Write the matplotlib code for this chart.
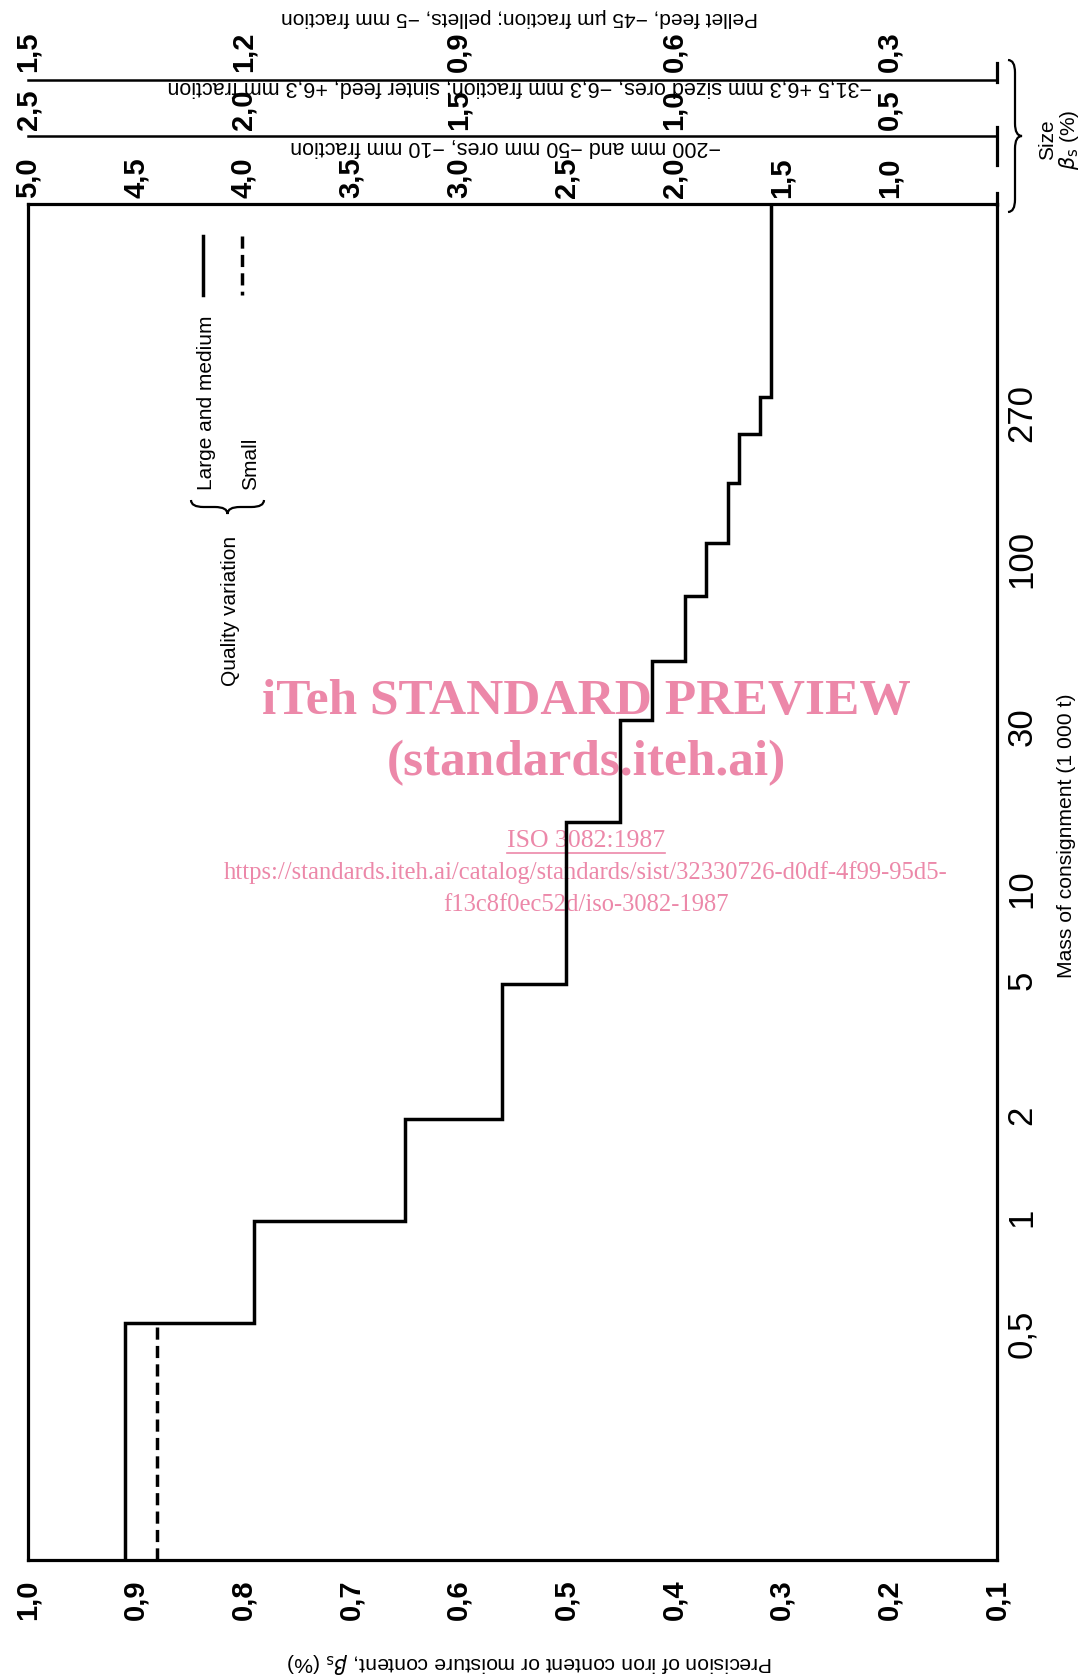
import matplotlib
matplotlib.use('Agg')
import matplotlib.pyplot as plt
import matplotlib.transforms as mtransforms
from matplotlib.path import Path
from matplotlib.patches import PathPatch
from matplotlib.ticker import NullLocator
from matplotlib import font_manager
import numpy as np

W, H = 1084, 1680

# step curve: mass of consignment (1 000 t) bin edges and precision beta_s (%)
mass_edges = [0.1, 0.5, 1, 2, 5, 15, 30, 45, 70, 100, 150, 210, 270, 1000]
prec_large = [0.91, 0.79, 0.65, 0.56, 0.50, 0.45, 0.42, 0.39, 0.37, 0.35, 0.34, 0.32, 0.31]
small_edges = [0.1, 0.5]
prec_small = [0.88]

mass_ticks = [0.5, 1, 2, 5, 10, 30, 100, 270]
mass_labels = ['0,5', '1', '2', '5', '10', '30', '100', '270']
prec_ticks = [1.0, 0.9, 0.8, 0.7, 0.6, 0.5, 0.4, 0.3, 0.2, 0.1]
prec_labels = ['1,0', '0,9', '0,8', '0,7', '0,6', '0,5', '0,4', '0,3', '0,2', '0,1']

# size scales above the chart (value, factor relative to precision)
size_row1 = [5.0, 4.5, 4.0, 3.5, 3.0, 2.5, 2.0, 1.5, 1.0]
size_row2 = [2.5, 2.0, 1.5, 1.0, 0.5]
size_row3 = [1.5, 1.2, 0.9, 0.6, 0.3]
row_factors = [5.0, 2.5, 1.5]
row_texts = ['\u2212200 mm and \u221250 mm ores, \u221210 mm fraction',
             '\u221231,5 +6,3 mm sized ores, \u22126,3 mm fraction; sinter feed, +6,3 mm fraction',
             'Pellet feed, \u221245 \u00b5m fraction; pellets, \u22125 mm fraction']

plt.rcParams['font.family'] = ['Liberation Sans', 'DejaVu Sans']
names = {f.name for f in font_manager.fontManager.ttflist}
narrow = 'Liberation Sans Narrow' if 'Liberation Sans Narrow' in names else 'Liberation Sans'
pink = '#EC88A9'

fig = plt.figure(figsize=(W / 100, H / 100), dpi=100)
fig.patch.set_facecolor('white')

# overlay in pixel coords (y down) for annotations
ov = fig.add_axes([0, 0, 1, 1], zorder=0)
ov.set_xlim(0, W)
ov.set_ylim(H, 0)
ov.axis('off')

ax = fig.add_axes([28 / W, 1 - 1560 / H, (997 - 28) / W, (1560 - 204) / H], zorder=1)
ax.patch.set_alpha(0)

ax.stairs(prec_large, mass_edges, orientation='horizontal', baseline=None,
          color='black', lw=2.5, joinstyle='miter')
ax.stairs(prec_small, small_edges, orientation='horizontal', baseline=None,
          color='black', lw=2.5, linestyle=(0, (3.5, 1.8)))

ax.set_yscale('log')
ax.set_ylim(0.1, 1000)
ax.set_xlim(1.0, 0.1)

ax.set_xticks(prec_ticks)
ax.set_xticklabels(prec_labels, rotation=90, fontsize=21, fontweight='bold')
ax.tick_params(axis='x', length=0, pad=14)
ax.yaxis.tick_right()
ax.set_yticks(mass_ticks)
ax.set_yticklabels(mass_labels, rotation=90, fontsize=25, family=narrow)
ax.yaxis.set_minor_locator(NullLocator())
ax.tick_params(axis='y', length=0, pad=6)
for s in ax.spines.values():
    s.set_linewidth(2.3)

bt = mtransforms.blended_transform_factory(ax.transData, ov.transData)

# size scale rows
row_y = [178, 110, 52]
text_y = [147, 86, 17]
text_x = [506, 520, 520]
text_fs = [15.5, 15.5, 15]
line_y = [136, 80]
for vals, f, y in zip([size_row1, size_row2, size_row3], row_factors, row_y):
    for v in vals:
        ov.text(v / f, y, ('%.1f' % v).replace('.', ','), transform=bt, rotation=90,
                ha='center', va='center', fontsize=21, fontweight='bold')
for t, y, x, fs in zip(row_texts, text_y, text_x, text_fs):
    ov.text(x, y, t, rotation=180, ha='center', va='center', fontsize=fs)
for y in line_y:
    ov.plot([1.0, 0.1], [y, y], transform=bt, color='black', lw=1.8, clip_on=False)
for y0, y1 in [(63, 82), (127, 165), (193, 205)]:
    ov.plot([0.1, 0.1], [y0, y1], transform=bt, color='black', lw=2.3, clip_on=False)


def brace(x0, y0, x1, y1, w, sign=1.0):
    p0 = np.array([x0, y0], float)
    d = np.array([x1 - x0, y1 - y0], float)
    L = np.hypot(*d)
    d /= L
    n = np.array([-d[1], d[0]]) * sign
    r = min(w * 0.9, L / 4)
    h = L / 2
    uv = [(0, 0), (0, w / 2), (r, w / 2), (h - r, w / 2), (h, w / 2), (h, w),
          (h, w / 2), (h + r, w / 2), (L - r, w / 2), (L, w / 2), (L, 0)]
    codes = [Path.MOVETO, Path.CURVE3, Path.CURVE3, Path.LINETO, Path.CURVE3, Path.CURVE3,
             Path.CURVE3, Path.CURVE3, Path.LINETO, Path.CURVE3, Path.CURVE3]
    verts = [p0 + u * d + v * n for u, v in uv]
    ov.add_patch(PathPatch(Path(verts, codes), fill=False, lw=1.6, color='black'))


brace(1008, 60, 1008, 212, 14, sign=-1)
ov.text(1048, 140, 'Size', rotation=90, ha='center', va='center', fontsize=15)
ov.text(1069, 140, r'$\beta_\mathrm{s}$ (%)', rotation=90, ha='center', va='center', fontsize=15)

ov.text(1066, 836, 'Mass of consignment (1 000 t)', rotation=90, ha='center', va='center', fontsize=15.2)
ov.text(530, 1663, r'Precision of iron content or moisture content, $\beta_\mathrm{s}$ (%)',
        rotation=180, ha='center', va='center', fontsize=15.2)

# legend
ov.text(206, 490, 'Large and medium', rotation=90, rotation_mode='anchor',
        ha='left', va='center', fontsize=15)
ov.text(251, 490, 'Small', rotation=90, rotation_mode='anchor', ha='left', va='center', fontsize=15)
ov.text(230, 686, 'Quality variation', rotation=90, rotation_mode='anchor',
        ha='left', va='center', fontsize=15)
brace(191, 500, 264, 500, 14, sign=1)
ov.plot([203, 203], [236, 295], color='black', lw=2.5)
ov.plot([242, 242], [236, 295], color='black', lw=2.5, linestyle=(0, (3.5, 1.8)))

# watermark
ov.text(586, 702, 'iTeh STANDARD PREVIEW', ha='center', va='center', fontsize=37,
        fontweight='bold', family='Liberation Serif', color=pink)
ov.text(586, 763, '(standards.iteh.ai)', ha='center', va='center', fontsize=37,
        fontweight='bold', family='Liberation Serif', color=pink)
ov.text(586, 841, 'ISO 3082:1987', ha='center', va='center', fontsize=18.5,
        family='Liberation Serif', color=pink)
ov.plot([507, 665], [853, 853], color=pink, lw=1.2)
ov.text(586, 873, 'https://standards.iteh.ai/catalog/standards/sist/32330726-d0df-4f99-95d5-',
        ha='center', va='center', fontsize=17.7, family='Liberation Serif', color=pink)
ov.text(586, 905, 'f13c8f0ec52d/iso-3082-1987', ha='center', va='center', fontsize=17.7,
        family='Liberation Serif', color=pink)

fig.savefig('out.png', dpi=100, facecolor='white')
